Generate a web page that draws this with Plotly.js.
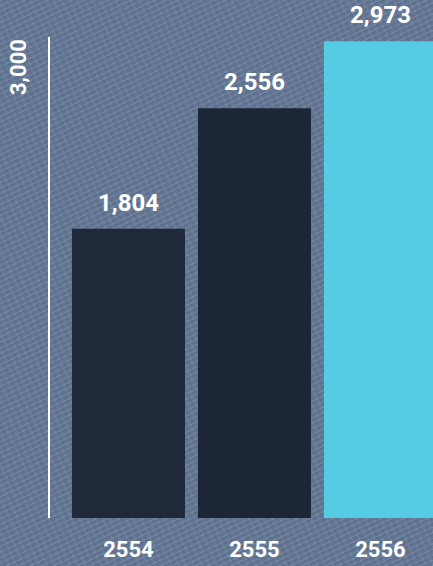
<!DOCTYPE html>
<html>
<head>
<meta charset="utf-8">
<script src="https://cdn.plot.ly/plotly-3.0.1.min.js"></script>
<style>
  html, body { margin: 0; padding: 0; width: 433px; height: 566px; overflow: hidden; }
  body {
    background-color: #627694;
    background-image:
      repeating-linear-gradient(155deg, rgba(255,255,255,0.09) 0px, rgba(255,255,255,0.09) 1px, rgba(0,0,0,0.08) 2px, rgba(0,0,0,0.0) 3px, rgba(0,0,0,0) 5px),
      repeating-linear-gradient(65deg, rgba(255,255,255,0.03) 0px, rgba(255,255,255,0.03) 2px, rgba(0,0,0,0.04) 3px, rgba(0,0,0,0) 7px);
  }
  #chart { width: 433px; height: 566px; }
</style>
</head>
<body>
<div id="chart"></div>
<script>
const categories = ['2554', '2555', '2556'];
const values = [1804, 2556, 2973];
const valueLabels = ['1,804', '2,556', '2,973'];
const yTickValues = [3000];
const yTickText = ['3,000'];
const barColors = ['#1f2939', '#1d2636', '#55cbe4'];

const positions = categories.map((c, i) => i);
const font = 'Roboto, "DejaVu Sans", sans-serif';

const trace = {
  type: 'bar',
  x: positions,
  y: values,
  width: 0.897,
  marker: { color: barColors, line: { width: 0 } },
  hoverinfo: 'none',
  cliponaxis: false
};

const annotations = values.map((v, i) => ({
  x: positions[i], y: v, xref: 'x', yref: 'y',
  text: '<b>' + valueLabels[i] + '</b>',
  showarrow: false, xanchor: 'center', yanchor: 'bottom', yshift: 10,
  font: { family: font, size: 24, color: '#ffffff' }
}));
yTickValues.forEach((v, i) => {
  annotations.push({
    x: 0, xref: 'paper', y: v, yref: 'y',
    text: '<b>' + yTickText[i] + '</b>',
    showarrow: false, textangle: -90, xanchor: 'center', yanchor: 'top', xshift: -32,
    font: { family: font, size: 22, color: '#ffffff' }
  });
});

const layout = {
  width: 433, height: 566,
  margin: { l: 50, r: 0, t: 37, b: 48, pad: 0 },
  paper_bgcolor: 'rgba(0,0,0,0)',
  plot_bgcolor: 'rgba(0,0,0,0)',
  showlegend: false,
  xaxis: {
    range: [-0.623, 2.417],
    tickvals: positions, ticktext: categories.map(c => '<b>' + c + '</b>'),
    showgrid: false, zeroline: false, showline: false, ticks: '',
    ticklabelstandoff: 16,
    tickfont: { family: font, size: 22, color: '#ffffff' },
    fixedrange: true
  },
  yaxis: {
    range: [0, 3000],
    showgrid: false, zeroline: false, showticklabels: false, ticks: '',
    showline: true, linecolor: '#ffffff', linewidth: 2,
    fixedrange: true
  },
  annotations: annotations
};

Plotly.newPlot('chart', [trace], layout, { displayModeBar: false, staticPlot: true });
</script>
</body>
</html>
